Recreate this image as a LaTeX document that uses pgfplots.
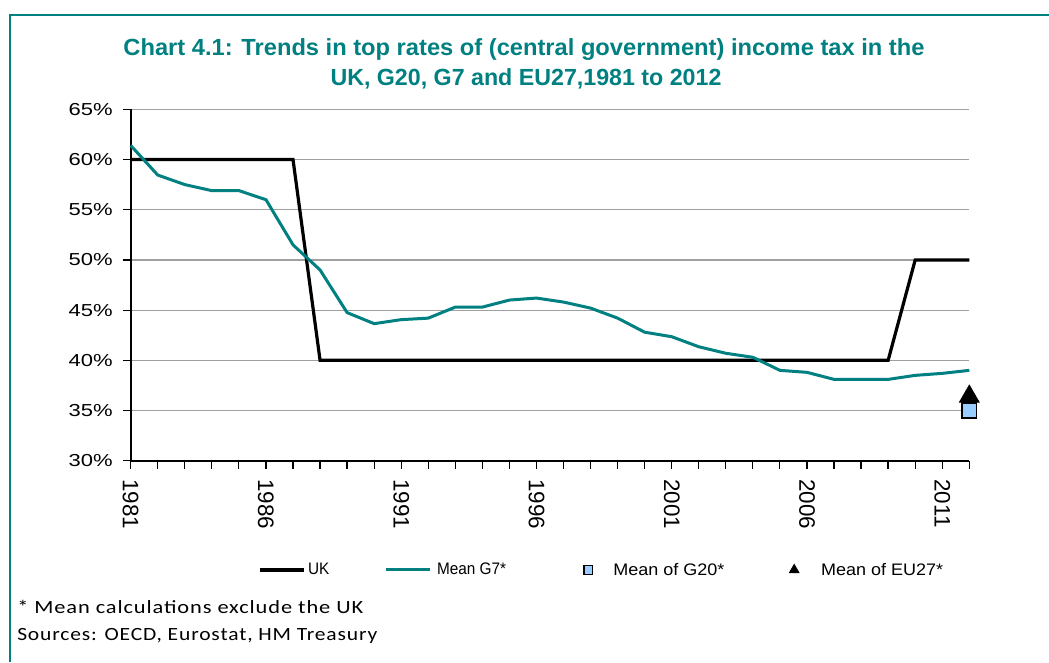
\documentclass[border=0pt]{standalone}
\usepackage{pgfplots}
\pgfplotsset{compat=1.18}
\usepackage{fontspec}
\setmainfont{Liberation Sans}
\newfontfamily\footfont[LetterSpace=4]{Carlito}
\definecolor{tealc}{RGB}{0,128,128}
\definecolor{gridc}{RGB}{160,160,160}
\definecolor{sqc}{RGB}{153,204,255}

\pgfplotsset{
  legsq/.style={legend image code/.code={\path (0pt,0pt) (33pt,0pt);\draw[##1, mark size=3.3pt] plot coordinates {(16.5pt,0pt)};}},
  legtri/.style={legend image code/.code={\path (0pt,0pt) (33pt,0pt);\draw[##1, mark size=4.3pt] plot coordinates {(16.5pt,0pt)};}},
}

\pgfplotstableread{
year uk
1981 60
1987 60
1988 40
2009 40
2010 50
2012 50
}\ukdata

\pgfplotstableread{
year g7
1981 61.4
1982 58.45
1983 57.5
1984 56.9
1985 56.9
1986 56.0
1987 51.5
1988 49.0
1989 44.75
1990 43.65
1991 44.05
1992 44.2
1993 45.3
1994 45.3
1995 46.0
1996 46.2
1997 45.8
1998 45.2
1999 44.2
2000 42.8
2001 42.35
2002 41.35
2003 40.7
2004 40.3
2005 39.0
2006 38.8
2007 38.1
2008 38.1
2009 38.1
2010 38.5
2011 38.7
2012 39.0
}\gsevendata

\begin{document}
\begin{tikzpicture}[x=0.75pt,y=0.75pt]
\path[use as bounding box] (0,0) rectangle (1049,662);
\draw[tealc, line width=1.6pt] (10,0) -- (10,647) -- (1049,647);
\node[anchor=base, tealc, inner sep=0pt, font=\fontsize{17.5}{20}\selectfont\bfseries] at (524,606)
  {\resizebox{600.75pt}{\height}{Chart 4.1: Trends in top rates of (central government) income tax in the}};
\node[anchor=base, tealc, inner sep=0pt, font=\fontsize{17.5}{20}\selectfont\bfseries] at (526,576)
  {\resizebox{293.25pt}{\height}{UK, G20, G7 and EU27,1981 to 2012}};
\node[anchor=base west, inner sep=0pt] at (17,49)
  {\resizebox{259.5pt}{\height}{\footfont\fontsize{14}{16}\selectfont * Mean calculations exclude the UK}};
\node[anchor=base west, inner sep=0pt] at (17,22)
  {\resizebox{270pt}{\height}{\footfont\fontsize{14}{16}\selectfont Sources: OECD, Eurostat, HM Treasury}};
\begin{axis}[
  at={(98.025pt,150.975pt)}, anchor=south west,
  scale only axis, width=628.95pt, height=263.55pt,
  xmin=1981, xmax=2012, ymin=30, ymax=65,
  clip=false,
  axis x line=bottom, axis y line=left,
  axis line style={-, black, line width=1.2pt},
  ytick={30,35,...,65},
  ymajorgrids, grid style={gridc, line width=0.9pt},
  xtick={1981,1986,...,2011}, minor xtick={1981,...,2012},
  tick align=outside, major tick length=6pt, minor tick length=6pt,
  every tick/.style={black, line width=0.9pt},
  /pgf/number format/assume math mode=true,
  xticklabel={\pgfmathprintnumber[1000 sep={}]{\tick}},
  xticklabel style={rotate=-90, anchor=west, font=\fontsize{16.8}{18}\selectfont},
  xticklabel shift=4.5pt,
  yticklabel={\scalebox{1.27}[1]{\pgfmathprintnumber{\tick}\%}},
  yticklabel style={font=\fontsize{13}{15}\selectfont},
  yticklabel shift=4pt,
  legend columns=4,
  legend style={draw=none, fill=none, at={(0.1518,-0.311)}, anchor=west,
    inner sep=0pt, font=\fontsize{12.5}{14}\selectfont,
    /tikz/every even column/.append style={column sep=0pt},
    /tikz/every odd column/.append style={column sep=0pt}},
  legend image code/.code={\draw[#1] (0pt,0pt) -- (33pt,0pt);},
]
\addplot[black, line width=2.4pt] table[x=year, y=uk] {\ukdata};
\addlegendentry{\makebox[55.5pt][l]{\scalebox{0.92}[1]{UK}}}
\addplot[tealc, line width=2.25pt] table[x=year, y=g7] {\gsevendata};
\addlegendentry{\makebox[96.7pt][l]{\hspace{2pt}\scalebox{0.92}[1]{Mean G7*}}}
\addplot[only marks, mark=square*, mark size=5.6pt, mark options={fill=sqc, draw=black, line width=1pt}, legsq]
  coordinates {(2012,35.0)};
\addlegendentry{\makebox[117pt][l]{\scalebox{1.08}[1]{Mean of G20*}}}
\addplot[only marks, mark=triangle*, mark size=8.6pt, mark options={fill=black, draw=black, line width=0.5pt}, legtri]
  coordinates {(2012,36.4)};
\addlegendentry{\hspace{1.5pt}\scalebox{1.08}[1]{Mean of EU27*}}
\addplot[forget plot, only marks, mark=square*, mark size=5.6pt, mark options={fill=sqc, draw=black, line width=1pt}]
  coordinates {(2012,35.0)};
\end{axis}
\end{tikzpicture}
\end{document}
